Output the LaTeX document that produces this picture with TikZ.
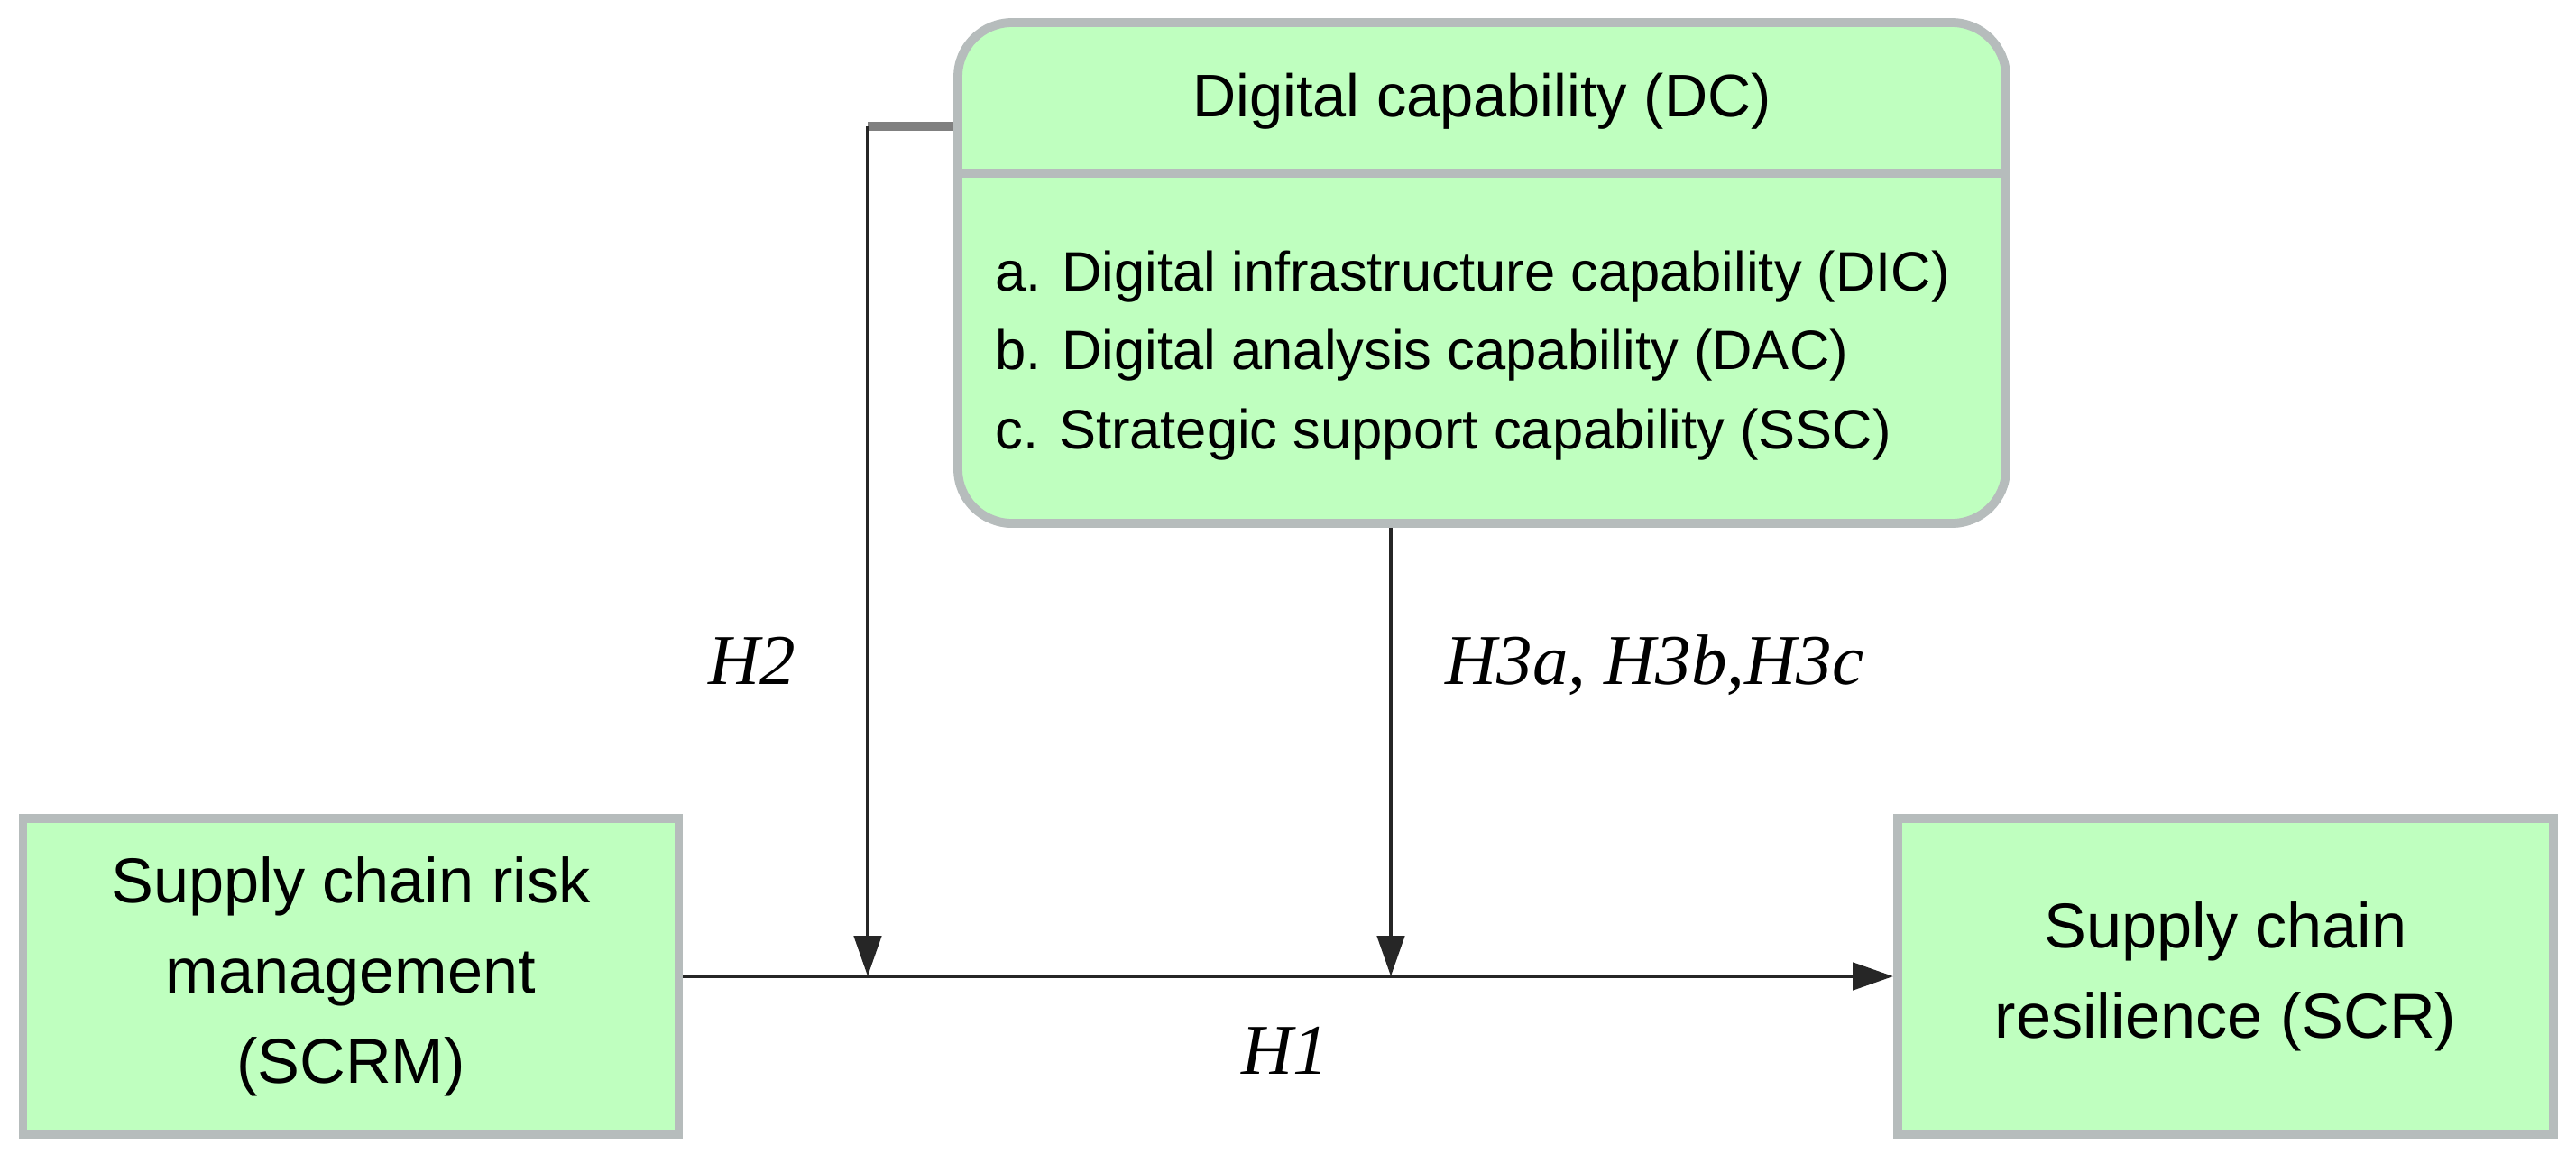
\documentclass[tikz,border=0pt]{standalone}
\usepackage{fontspec}
\setmainfont{Liberation Sans}
\newfontfamily\hypfont{Liberation Serif}
\usetikzlibrary{arrows.meta,shadows}

\definecolor{boxgreen}{RGB}{191,255,191}
\definecolor{boxedge}{RGB}{182,188,188}

\tikzset{
  box/.style={draw=boxedge, line width=2.8pt, fill=boxgreen, align=center,
    minimum width=7.27cm, minimum height=3.5cm,
    drop shadow={shadow xshift=0pt, shadow yshift=-1.4pt, fill=black!12, opacity=1},
    font=\fontsize{20}{28.5}\selectfont},
  conn/.style={black!85, line width=1.4pt,
    -{Triangle[length=0.45cm, width=0.3cm]}},
  hyp/.style={inner sep=0pt, font=\fontsize{22.5}{27}\hypfont\itshape}
}

\begin{document}
\begin{tikzpicture}
  \useasboundingbox (0,0) rectangle (28.56,12.89);

  % moderator
  \node[box, rounded corners=0.6cm, minimum width=11.62cm, minimum height=5.55cm] (dc) at (16.43,9.865) {};
  \coordinate (div) at (0,10.97);
  \draw[boxedge, line width=2.8pt] (dc.west |- div) -- (dc.east |- div);
  \node[font=\fontsize{19}{24}\selectfont] (dctitle) at (16.43,11.77) {Digital capability (DC)};
  \node[anchor=west, align=left, font=\fontsize{17.5}{25}\selectfont] (dcitems) at (10.91,8.95)
    {a. Digital infrastructure capability (DIC)\\
     b. Digital analysis capability (DAC)\\
     c. Strategic support capability (SSC)};

  % independent and dependent
  \node[box] (scrm) at (3.89,2.07) {Supply chain risk\\ management\\ (SCRM)};
  \node[box] (scr) at (24.675,2.07) {Supply chain\\ resilience (SCR)};

  \coordinate (k2) at (9.62,11.49);
  \coordinate (m2) at (9.62,2.07);
  \coordinate (m3) at (15.42,2.07);

  \draw[gray, line width=2.8pt] (dc.west |- k2) -- (k2);
  \draw[conn] (k2) -- (m2);
  \draw[conn] (dc.south -| m3) -- (m3);
  \draw[conn] (scrm) -- (scr);

  \node[hyp, anchor=base] (h2) at (8.34,5.31) {H2};
  \node[hyp, anchor=base west] (h3) at (16.02,5.31) {H3a, H3b,H3c};
  \node[hyp, anchor=base] (h1) at (14.25,0.99) {H1};
\end{tikzpicture}
\end{document}
